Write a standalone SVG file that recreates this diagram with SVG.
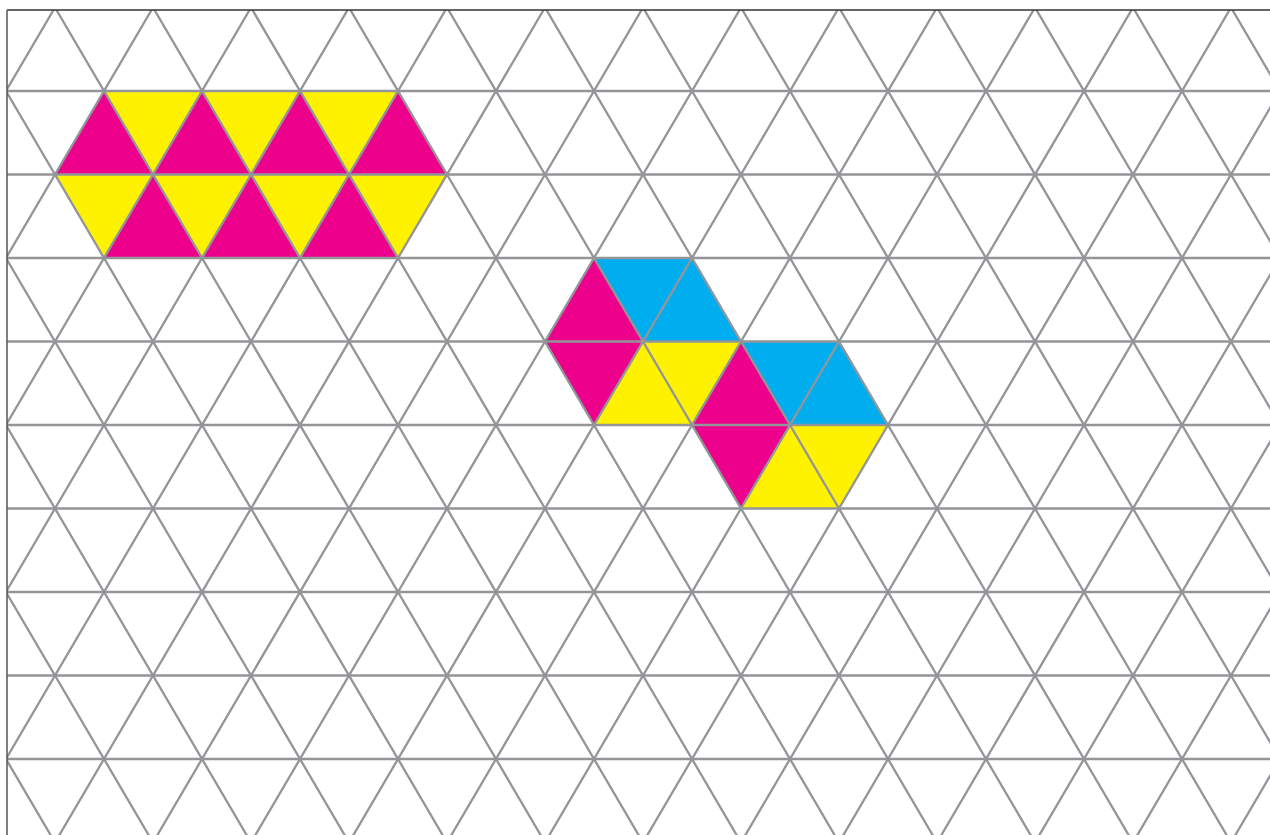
<svg xmlns="http://www.w3.org/2000/svg" width="1270" height="835" viewBox="0 0 1270 835">
<defs>
<style>
.m{fill:#EC008C}
.y{fill:#FFF200}
.c{fill:#00AEEF}
.g{fill:none;stroke:#939598;stroke-width:2.3}
</style>
<clipPath id="frame"><rect x="7" y="10" width="1263" height="825"/></clipPath>
</defs>
<rect width="1270" height="835" fill="#fff"/>
<g id="cluster1">
<polygon class="m" points="104,91 55,174.5 153,174.5"/>
<polygon class="y" points="104,91 202,91 153,174.5"/>
<polygon class="m" points="202,91 153,174.5 251,174.5"/>
<polygon class="y" points="202,91 300,91 251,174.5"/>
<polygon class="m" points="300,91 251,174.5 349,174.5"/>
<polygon class="y" points="300,91 398,91 349,174.5"/>
<polygon class="m" points="398,91 349,174.5 447,174.5"/>
<polygon class="y" points="55,174.5 153,174.5 104,258"/>
<polygon class="m" points="153,174.5 104,258 202,258"/>
<polygon class="y" points="153,174.5 251,174.5 202,258"/>
<polygon class="m" points="251,174.5 202,258 300,258"/>
<polygon class="y" points="251,174.5 349,174.5 300,258"/>
<polygon class="m" points="349,174.5 300,258 398,258"/>
<polygon class="y" points="349,174.5 447,174.5 398,258"/>
</g>
<g id="cluster2">
<polygon class="m" points="594,258 545,341.5 643,341.5"/>
<polygon class="c" points="594,258 692,258 643,341.5"/>
<polygon class="c" points="692,258 643,341.5 741,341.5"/>
<polygon class="m" points="545,341.5 643,341.5 594,425"/>
<polygon class="y" points="643,341.5 594,425 692,425"/>
<polygon class="y" points="643,341.5 741,341.5 692,425"/>
<polygon class="m" points="741,341.5 692,425 790,425"/>
<polygon class="c" points="741,341.5 839,341.5 790,425"/>
<polygon class="c" points="839,341.5 790,425 888,425"/>
<polygon class="m" points="692,425 790,425 741,508.5"/>
<polygon class="y" points="790,425 741,508.5 839,508.5"/>
<polygon class="y" points="790,425 888,425 839,508.5"/>
</g>
<g id="grid" clip-path="url(#frame)">
<path class="g" d="M7 91H1270M7 174.5H1270M7 258H1270M7 341.5H1270M7 425H1270M7 508.5H1270M7 592H1270M7 675.5H1270M7 759H1270"/>
<path class="g" d="M-435 7.5L55 842.5M-337 7.5L153 842.5M-239 7.5L251 842.5M-141 7.5L349 842.5M-43 7.5L447 842.5M55 7.5L545 842.5M153 7.5L643 842.5M251 7.5L741 842.5M349 7.5L839 842.5M447 7.5L937 842.5M545 7.5L1035 842.5M643 7.5L1133 842.5M741 7.5L1231 842.5M839 7.5L1329 842.5M937 7.5L1427 842.5M1035 7.5L1525 842.5M1133 7.5L1623 842.5M1231 7.5L1721 842.5"/>
<path class="g" d="M55 7.5L-435 842.5M153 7.5L-337 842.5M251 7.5L-239 842.5M349 7.5L-141 842.5M447 7.5L-43 842.5M545 7.5L55 842.5M643 7.5L153 842.5M741 7.5L251 842.5M839 7.5L349 842.5M937 7.5L447 842.5M1035 7.5L545 842.5M1133 7.5L643 842.5M1231 7.5L741 842.5M1329 7.5L839 842.5M1427 7.5L937 842.5M1525 7.5L1035 842.5M1623 7.5L1133 842.5M1721 7.5L1231 842.5"/>
</g>
<g id="border">
<path d="M7 10H1270" fill="none" stroke="#333" stroke-width="1.5"/>
<path d="M7 10V835" fill="none" stroke="#555" stroke-width="1.5"/>
</g>
</svg>
